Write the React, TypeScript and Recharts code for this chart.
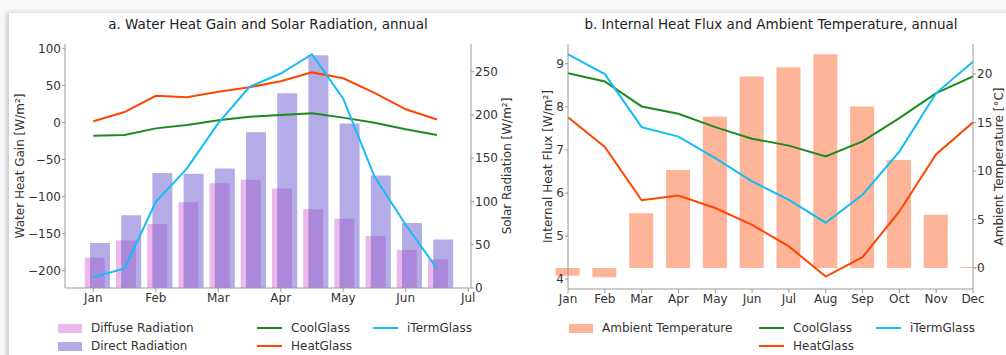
import React from "react";
import {
  Bar,
  ComposedChart,
  Line,
  ReferenceArea,
  XAxis,
  YAxis,
} from "recharts";

// Panel a: half-month steps from Jan to mid-Jun
const halfMonthIdx = [0, 1, 2, 3, 4, 5, 6, 7, 8, 9, 10, 11];
const halfMonthTickIdx = [0, 2, 4, 6, 8, 10, 12];
const halfMonthLabels = ["Jan", "Feb", "Mar", "Apr", "May", "Jun", "Jul"];
const diffuseRad = [35, 55, 74, 99, 121, 125, 115, 91, 80, 60, 44, 33];
const directRad = [52, 84, 133, 132, 138, 180, 225, 269, 190, 130, 75, 56];
const gainCool = [-18, -17, -8, -3.5, 3, 7.7, 10, 12.5, 6.5, -0.5, -9.3, -17];
const gainHeat = [1.5, 14, 36, 34, 41.5, 47.5, 55.5, 67.5, 59.5, 40, 17.7, 4];
const gainITerm = [-209, -197, -107, -62, -1, 48, 66, 92, 32, -73, -138, -197];

// Panel b: monthly
const monthIdx = [0, 1, 2, 3, 4, 5, 6, 7, 8, 9, 10, 11];
const monthLabels = ["Jan", "Feb", "Mar", "Apr", "May", "Jun", "Jul", "Aug", "Sep", "Oct", "Nov", "Dec"];
const ambientTemp = [-0.8, -0.95, 5.65, 10.1, 15.6, 19.75, 20.7, 22.05, 16.65, 11.15, 5.5, 0.1];
const fluxCool = [8.78, 8.59, 8.01, 7.84, 7.53, 7.26, 7.1, 6.85, 7.2, 7.74, 8.32, 8.71];
const fluxHeat = [7.76, 7.07, 5.83, 5.94, 5.65, 5.26, 4.76, 4.06, 4.51, 5.57, 6.9, 7.64];
const fluxITerm = [9.22, 8.76, 7.53, 7.31, 6.81, 6.27, 5.84, 5.31, 5.96, 6.96, 8.32, 9.05];

const gainTicks = [-200, -150, -100, -50, 0, 50, 100];
const radTicks = [0, 50, 100, 150, 200, 250];
const fluxTicks = [4, 5, 6, 7, 8, 9];
const tempTicks = [0, 5, 10, 15, 20];

const GREEN = "#1e8a1e";
const RED = "#ff4500";
const BLUE = "#12bdf5";
const DIFFUSE = "#da70d6";
const DIRECT = "#6a5acd";
const SALMON = "#fdb498";
const FRAME = "#9a9a9a";
const INK = "#333";
const FONT = "'DejaVu Sans', sans-serif";

const waterRows = halfMonthIdx.map((t, i) => ({
  t,
  diffuse: diffuseRad[i],
  direct: directRad[i],
  cool: gainCool[i],
  heat: gainHeat[i],
  iterm: gainITerm[i],
}));

const fluxRows = monthIdx.map((t, i) => ({
  t,
  temp: ambientTemp[i],
  cool: fluxCool[i],
  heat: fluxHeat[i],
  iterm: fluxITerm[i],
}));

const minus = (v: number) => String(v).replace("-", "\u2212");
const tickStyle = { fill: INK, fontSize: 12, fontFamily: FONT };

function WaterPanel() {
  return (
    <ComposedChart
      width={520}
      height={312}
      data={waterRows}
      margin={{ top: 44, right: 9, bottom: 4, left: 15 }}
    >
      <XAxis
        xAxisId="t"
        dataKey="t"
        type="number"
        domain={[-0.906, 12.09]}
        allowDataOverflow
        ticks={halfMonthTickIdx}
        tickFormatter={(v: number) => halfMonthLabels[v / 2]}
        tick={tickStyle}
        stroke={FRAME}
        tickSize={4}
        tickMargin={1}
        height={20}
      />
      {/* offset band axes so the two radiation bars sit side by side, overlapping */}
      <XAxis xAxisId="dif" dataKey="t" type="category" hide height={0} padding={{ left: 13.8, right: 17.8 }} />
      <XAxis xAxisId="dir" dataKey="t" type="category" hide height={0} padding={{ left: 19, right: 12.6 }} />
      <YAxis
        yAxisId="gain"
        type="number"
        domain={[-223.3, 105.8]}
        allowDataOverflow
        ticks={gainTicks}
        tickFormatter={minus}
        tick={tickStyle}
        stroke={FRAME}
        tickSize={3}
        tickMargin={1}
        width={50}
        label={{
          value: "Water Heat Gain [W/m²]",
          angle: -90,
          position: "insideLeft",
          offset: 4.5,
          style: { textAnchor: "middle", fill: INK, fontSize: 12, fontFamily: FONT },
        }}
      />
      <YAxis
        yAxisId="rad"
        orientation="right"
        type="number"
        domain={[0, 282]}
        allowDataOverflow
        ticks={radTicks}
        tick={tickStyle}
        stroke={FRAME}
        tickSize={3}
        tickMargin={1}
        width={40}
        label={{
          value: "Solar Radiation [W/m²]",
          angle: -90,
          position: "insideRight",
          offset: 4.3,
          style: { textAnchor: "middle", fill: INK, fontSize: 12, fontFamily: FONT },
        }}
      />
      <Bar xAxisId="dif" yAxisId="rad" dataKey="diffuse" barSize={20} fill={DIFFUSE} fillOpacity={0.5} isAnimationActive={false} />
      <Bar xAxisId="dir" yAxisId="rad" dataKey="direct" barSize={20} fill={DIRECT} fillOpacity={0.5} isAnimationActive={false} />
      <Line xAxisId="t" yAxisId="gain" dataKey="cool" stroke={GREEN} strokeWidth={2} dot={false} isAnimationActive={false} />
      <Line xAxisId="t" yAxisId="gain" dataKey="heat" stroke={RED} strokeWidth={2} dot={false} isAnimationActive={false} />
      <Line xAxisId="t" yAxisId="gain" dataKey="iterm" stroke={BLUE} strokeWidth={2} dot={false} isAnimationActive={false} />
      <ReferenceArea xAxisId="t" yAxisId="gain" fill="none" stroke={FRAME} strokeWidth={1} ifOverflow="visible" />
    </ComposedChart>
  );
}

function FluxPanel() {
  return (
    <ComposedChart
      width={486}
      height={312}
      data={fluxRows}
      margin={{ top: 44, right: 0, bottom: 3, left: 15 }}
    >
      <XAxis
        xAxisId="t"
        dataKey="t"
        type="number"
        domain={[0, 11]}
        allowDataOverflow
        ticks={monthIdx}
        tickFormatter={(v: number) => monthLabels[v]}
        tick={tickStyle}
        stroke={FRAME}
        tickSize={4}
        tickMargin={1}
        height={20}
        interval={0}
      />
      {/* band axis centred on the month ticks; end bars are clipped at the frame */}
      <XAxis
        xAxisId="bars"
        dataKey="t"
        type="category"
        hide
        height={0}
        allowDataOverflow
        padding={{ left: -18.4, right: -18.4 }}
      />
      <YAxis
        yAxisId="flux"
        type="number"
        domain={[3.77, 9.46]}
        allowDataOverflow
        ticks={fluxTicks}
        tick={tickStyle}
        stroke={FRAME}
        tickSize={3}
        tickMargin={1}
        width={33}
        label={{
          value: "Internal Heat Flux [W/m²]",
          angle: -90,
          position: "insideLeft",
          offset: 12.7,
          style: { textAnchor: "middle", fill: INK, fontSize: 12, fontFamily: FONT },
        }}
      />
      <YAxis
        yAxisId="temp"
        orientation="right"
        type="number"
        domain={[-2.16, 23.1]}
        allowDataOverflow
        ticks={tempTicks}
        tick={tickStyle}
        stroke={FRAME}
        tickSize={3}
        tickMargin={1}
        width={33}
        label={{
          value: "Ambient Temperature [°C]",
          angle: -90,
          position: "insideRight",
          offset: 7,
          style: { textAnchor: "middle", fill: INK, fontSize: 12, fontFamily: FONT },
        }}
      />
      <Bar xAxisId="bars" yAxisId="temp" dataKey="temp" barSize={24} fill={SALMON} isAnimationActive={false} />
      <Line xAxisId="t" yAxisId="flux" dataKey="cool" stroke={GREEN} strokeWidth={2} dot={false} isAnimationActive={false} />
      <Line xAxisId="t" yAxisId="flux" dataKey="heat" stroke={RED} strokeWidth={2} dot={false} isAnimationActive={false} />
      <Line xAxisId="t" yAxisId="flux" dataKey="iterm" stroke={BLUE} strokeWidth={2} dot={false} isAnimationActive={false} />
      <ReferenceArea xAxisId="t" yAxisId="flux" fill="none" stroke={FRAME} strokeWidth={1} ifOverflow="visible" />
    </ComposedChart>
  );
}

type Key = { x: number; y: number; label: string; color: string; patch?: boolean; opacity?: number };

const waterKeys: Key[] = [
  { x: 58, y: 328, label: "Diffuse Radiation", color: DIFFUSE, patch: true, opacity: 0.5 },
  { x: 58, y: 346, label: "Direct Radiation", color: DIRECT, patch: true, opacity: 0.5 },
  { x: 257, y: 328, label: "CoolGlass", color: GREEN },
  { x: 257, y: 346, label: "HeatGlass", color: RED },
  { x: 373, y: 328, label: "iTermGlass", color: BLUE },
];

const fluxKeys: Key[] = [
  { x: 569, y: 328, label: "Ambient Temperature", color: SALMON, patch: true },
  { x: 759, y: 328, label: "CoolGlass", color: GREEN },
  { x: 759, y: 346, label: "HeatGlass", color: RED },
  { x: 876, y: 328, label: "iTermGlass", color: BLUE },
];

function KeyItem({ k }: { k: Key }) {
  return (
    <div style={{ position: "absolute", left: k.x, top: k.y - 8, height: 16, display: "flex", alignItems: "center" }}>
      {k.patch ? (
        <span style={{ width: 24, height: 9, background: k.color, opacity: k.opacity ?? 1, display: "inline-block" }} />
      ) : (
        <span style={{ width: 25, height: 2, background: k.color, display: "inline-block" }} />
      )}
      <span style={{ marginLeft: 9, fontSize: 12, color: INK, fontFamily: FONT, whiteSpace: "nowrap" }}>{k.label}</span>
    </div>
  );
}

function Title({ cx, text }: { cx: number; text: string }) {
  return (
    <div
      style={{
        position: "absolute",
        left: cx - 250,
        width: 500,
        top: 15,
        textAlign: "center",
        fontSize: 13.5,
        lineHeight: "18px",
        color: "#222",
        fontFamily: FONT,
      }}
    >
      {text}
    </div>
  );
}

export default function App() {
  return (
    <div style={{ position: "absolute", left: 0, top: 0, width: 1006, height: 355, overflow: "hidden", background: "#f8f8f8", fontFamily: FONT }}>
      <div
        style={{
          position: "absolute",
          left: 9,
          top: 13,
          width: 1020,
          height: 360,
          background: "#fff",
          boxShadow: "-2px 0 5px rgba(0,0,0,0.22)",
        }}
      />
      <div style={{ position: "absolute", left: 0, top: 0 }}>
        <WaterPanel />
      </div>
      <div style={{ position: "absolute", left: 520, top: 0 }}>
        <FluxPanel />
      </div>
      <Title cx={268} text="a. Water Heat Gain and Solar Radiation, annual" />
      <Title cx={771} text="b. Internal Heat Flux and Ambient Temperature, annual" />
      {waterKeys.map((k) => (
        <KeyItem key={"w" + k.label} k={k} />
      ))}
      {fluxKeys.map((k) => (
        <KeyItem key={"f" + k.label} k={k} />
      ))}
    </div>
  );
}
